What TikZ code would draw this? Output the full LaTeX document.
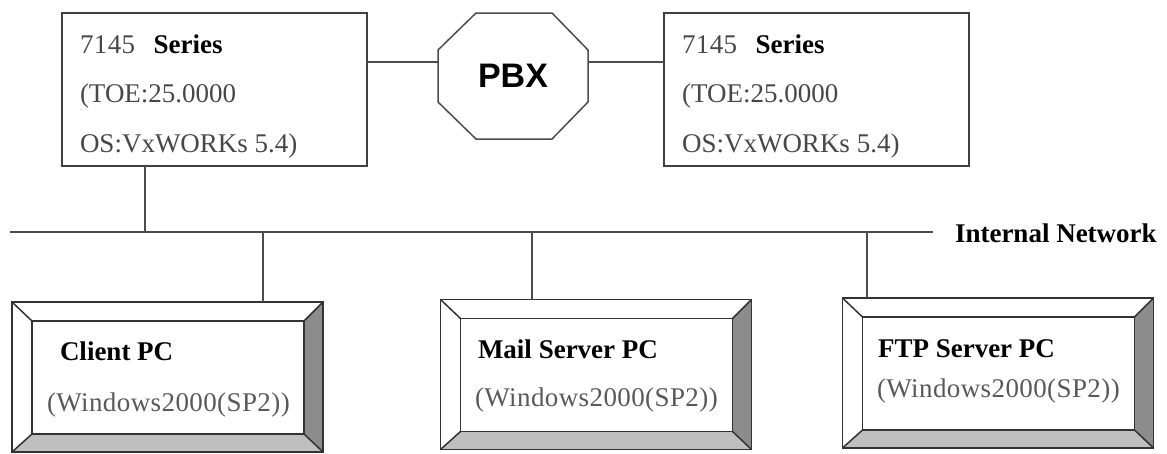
\documentclass[tikz,border=0pt]{standalone}
\usepackage{fontspec}
\setmainfont{Liberation Serif}
\newfontfamily\pbxfont{Liberation Sans}
\newfontfamily\spacedfont[LetterSpace=1.5]{Liberation Serif}
\usetikzlibrary{positioning,calc}

% bevelled PC frame round a named node
\newcommand{\pcbevel}[1]{%
  \coordinate (#1-inw) at ([shift={(20pt,-19pt)}]#1.north west);
  \coordinate (#1-ine) at ([shift={(-19pt,-19pt)}]#1.north east);
  \coordinate (#1-ise) at ([shift={(-19pt,18pt)}]#1.south east);
  \coordinate (#1-isw) at ([shift={(20pt,18pt)}]#1.south west);
  \fill[black!45] (#1.north east) -- (#1.south east) -- (#1-ise) -- (#1-ine) -- cycle;
  \fill[black!25] (#1.south west) -- (#1.south east) -- (#1-ise) -- (#1-isw) -- cycle;
  \draw[pcline] (#1.north west) rectangle (#1.south east);
  \draw[pcline] (#1-inw) rectangle (#1-ise);
  \draw[pcline] (#1.north west) -- (#1-inw) (#1.north east) -- (#1-ine)
                (#1.south east) -- (#1-ise) (#1.south west) -- (#1-isw);
}

\begin{document}
\begin{tikzpicture}[
        x=1pt, y=-1pt,
        every node/.style={inner sep=0pt, outer sep=0pt},
        line/.style={draw=black!70, line width=1.5pt},
        pcline/.style={draw=black!80, line width=1.5pt},
        topbox/.style={draw=black!75, line width=1.6pt, minimum width=305pt, minimum height=153pt},
        pcbox/.style={minimum width=311pt, minimum height=150pt},
        txt/.style={anchor=base west, font=\fontsize{27}{32}\selectfont, text=black!72},
        wintxt/.style={anchor=base west, font=\spacedfont\fontsize{27}{32}\selectfont, text=black!65},
        btxt/.style={anchor=base west, font=\fontsize{27}{32}\selectfont\bfseries}
    ]
    \useasboundingbox (0,0) rectangle (1167,453);

    % Top boxes and PBX
    \node[topbox] (ltop) at (214.5,89.5) {};
    \node[topbox] (rtop) at (816.5,89.5) {};
    \node[minimum width=150pt, minimum height=126pt,
          font=\pbxfont\fontsize{34}{40}\selectfont\bfseries] (pbx) at (513,76) {PBX};
    \draw[line] ([xshift=38pt]pbx.north west) -- ([xshift=-36pt]pbx.north east)
        -- ([yshift=-37pt]pbx.north east) -- ([yshift=37pt]pbx.south east)
        -- ([xshift=-36pt]pbx.south east) -- ([xshift=38pt]pbx.south west)
        -- ([yshift=37pt]pbx.south west) -- ([yshift=-37pt]pbx.north west) -- cycle;

    \foreach \b in {ltop,rtop} {
      \node[txt] (\b-l1) at ([shift={(18pt,-40pt)}]\b.north west) {{\spacedfont 7145}\hspace{18pt}\textbf{\color{black}Series}};
      \node[txt] (\b-l2) at ([shift={(18pt,-89pt)}]\b.north west) {(TOE:25.0000};
      \node[txt] (\b-l3) at ([shift={(18pt,-139pt)}]\b.north west) {OS:VxWORKs 5.4)};
    }

    % Lines to PBX
    \coordinate (pbxl) at ([yshift=14pt]pbx.west);
    \coordinate (pbxr) at ([yshift=14pt]pbx.east);
    \draw[line] (pbxl) -- (pbxl -| ltop.east);
    \draw[line] (pbxr) -- (pbxr -| rtop.west);

    % Internal network
    \coordinate (busL) at (10,232);
    \coordinate (busR) at (933,232);
    \draw[line] (busL) -- (busR);
    \node[btxt] (net) at (955,242) {Internal Network};

    \coordinate (ldrop) at ([xshift=-69.5pt]ltop.south);
    \draw[line] (ldrop) -- (ldrop |- busL);

    % PCs
    \node[pcbox] (client) at (167.5,377) {};
    \node[pcbox] (mail) at (596,374.5) {};
    \node[pcbox] (ftp) at (998,373) {};
    \pcbevel{client}
    \pcbevel{mail}
    \pcbevel{ftp}

    \coordinate (cdrop) at ([xshift=95.5pt]client.north);
    \coordinate (mdrop) at ([xshift=-64pt]mail.north);
    \coordinate (fdrop) at ([xshift=-131pt]ftp.north);
    \draw[line] (cdrop |- busL) -- (cdrop);
    \draw[line] (mdrop |- busL) -- (mdrop);
    \draw[line] (fdrop |- busL) -- (fdrop);

    \node[btxt] (clientname) at (60,360) {Client PC};
    \node[wintxt] (clientos) at (47,411) {(Windows2000(SP2))};
    \node[btxt] (mailname) at (478,358) {Mail Server PC};
    \node[wintxt] (mailos) at (475,406) {(Windows2000(SP2))};
    \node[btxt] (ftpname) at (878,357) {FTP Server PC};
    \node[wintxt] (ftpos) at (877,397) {(Windows2000(SP2))};

\end{tikzpicture}
\end{document}
